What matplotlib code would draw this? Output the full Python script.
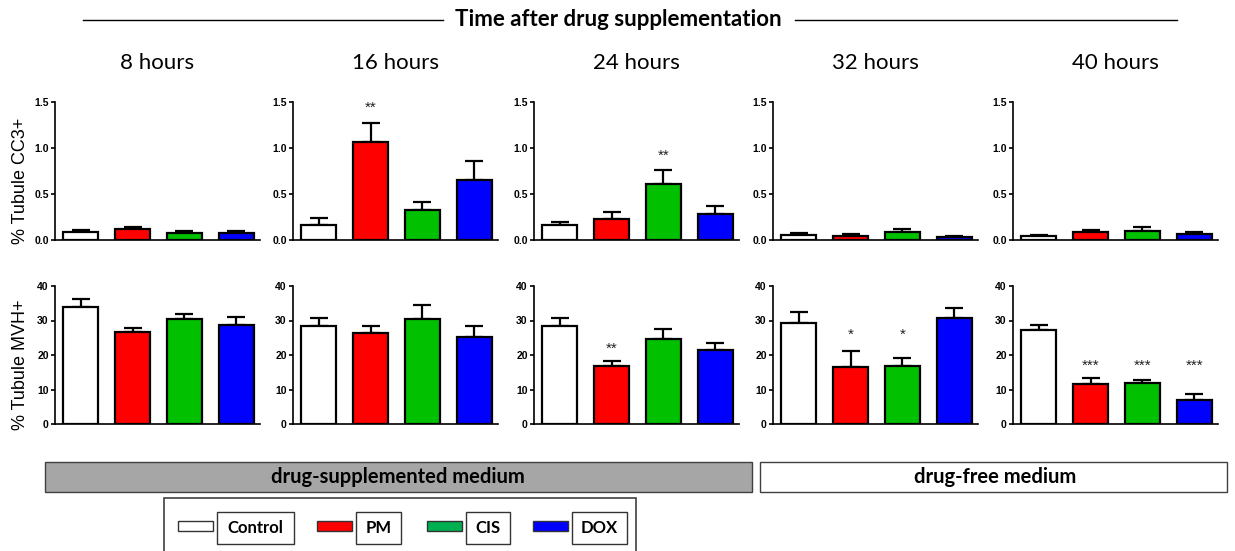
import numpy as np
import matplotlib
matplotlib.use('Agg')
import matplotlib.pyplot as plt
from matplotlib.patches import Rectangle
from matplotlib.lines import Line2D

plt.rcParams['font.family'] = 'Liberation Sans'

W, H = 1235, 551

groups = ['Control', 'PM', 'CIS', 'DOX']
hours = ['8 hours', '16 hours', '24 hours', '32 hours', '40 hours']

# % Tubule CC3+ (mean, upper error) per time point
cc3_mean = [[0.09, 0.12, 0.08, 0.08],
            [0.16, 1.06, 0.33, 0.65],
            [0.16, 0.23, 0.61, 0.28],
            [0.055, 0.045, 0.09, 0.035],
            [0.045, 0.09, 0.10, 0.06]]
cc3_err = [[0.015, 0.025, 0.015, 0.02],
           [0.08, 0.21, 0.08, 0.21],
           [0.04, 0.07, 0.15, 0.09],
           [0.025, 0.015, 0.03, 0.012],
           [0.012, 0.015, 0.04, 0.025]]

# % Tubule MVH+
mvh_mean = [[33.8, 26.7, 30.5, 28.7],
            [28.3, 26.4, 30.5, 25.2],
            [28.4, 16.8, 24.5, 21.4],
            [29.4, 16.6, 16.8, 30.8],
            [27.2, 11.7, 11.8, 6.9]]
mvh_err = [[2.5, 1.0, 1.5, 2.2],
           [2.3, 2.0, 3.9, 3.3],
           [2.4, 1.6, 3.1, 2.2],
           [3.1, 4.6, 2.3, 2.9],
           [1.4, 1.6, 1.0, 1.8]]

# significance marks: panel -> (labels per bar, height)
cc3_stars = {1: (['', '**', '', ''], 1.49),
             2: (['', '', '**', ''], 0.97)}
mvh_stars = {2: (['', '**', '', ''], 23.2),
             3: (['', '*', '*', ''], 27.4),
             4: (['', '***', '***', '***'], 18.4)}

bar_colors = ['white', '#ff0000', '#00c000', '#0000ff']
legend_colors = ['white', '#ff0000', '#00b050', '#0000ff']


def fx(px):
    return px / W


def fy(py):
    return 1 - py / H


fig = plt.figure(figsize=(W / 100, H / 100), dpi=100)

panel_left = [55, 293, 534, 773, 1013]
panel_w = 205

rows = [
    dict(mean=cc3_mean, err=cc3_err, top=102, bottom=240, ylim=(0, 1.5),
         ticks=[0, 0.5, 1.0, 1.5], fmt='{:.1f}', label='% Tubule CC3+', stars=cc3_stars),
    dict(mean=mvh_mean, err=mvh_err, top=286, bottom=424, ylim=(0, 40),
         ticks=[0, 10, 20, 30, 40], fmt='{:d}', label='% Tubule MVH+', stars=mvh_stars),
]

x = np.arange(len(groups))
for r in rows:
    for i in range(len(hours)):
        ax = fig.add_axes([fx(panel_left[i]), fy(r['bottom']),
                           panel_w / W, (r['bottom'] - r['top']) / H])
        ax.errorbar(x, r['mean'][i], yerr=[np.zeros(len(x)), r['err'][i]],
                    fmt='none', ecolor='black', elinewidth=1.6, capsize=6.5,
                    capthick=1.6, zorder=2)
        ax.bar(x, r['mean'][i], width=0.68, color=bar_colors, edgecolor='black',
               linewidth=1.6, zorder=3)
        ax.set_xlim(-0.495, 3.457)
        ax.set_ylim(*r['ylim'])
        ax.set_xticks([])
        ax.set_yticks(r['ticks'])
        ax.set_yticklabels([r['fmt'].format(t) for t in r['ticks']],
                           fontsize=7.5, fontweight='bold')
        ax.tick_params(axis='y', length=3, width=1.2, pad=1.5)
        for s in ['top', 'right']:
            ax.spines[s].set_visible(False)
        for s in ['left', 'bottom']:
            ax.spines[s].set_linewidth(1.2)
        ax.patch.set_visible(False)
        if i in r['stars']:
            labels, h = r['stars'][i]
            for xi, lab in zip(x, labels):
                if lab:
                    ax.annotate(lab, (xi, h), xytext=(0, -6.5), textcoords='offset points',
                                ha='center', va='baseline', fontsize=11, color='#222222')
    fig.text(fx(21), fy((r['top'] + r['bottom']) / 2 + 10), r['label'], rotation=90,
             ha='center', va='center', fontsize=13)

# time point titles
for i, t in enumerate(hours):
    fig.text(fx(panel_left[i] + panel_w / 2), fy(63), t, ha='center', va='center',
             fontsize=16, family='Lato')

# header
fig.text(fx(618), fy(20), 'Time after drug supplementation', ha='center', va='center',
         fontsize=16, fontweight='bold', family='Lato')
fig.add_artist(Line2D([fx(83), fx(443)], [fy(20), fy(20)], color='black', lw=1))
fig.add_artist(Line2D([fx(795), fx(1177)], [fy(20), fy(20)], color='black', lw=1))

# medium bands
fig.add_artist(Rectangle((fx(45), fy(492)), (752 - 45) / W, 30 / H, facecolor='#a6a6a6',
                         edgecolor='#404040', lw=1))
fig.text(fx(398), fy(477), 'drug-supplemented medium', ha='center', va='center',
         fontsize=14.5, fontweight='bold', family='Lato')
fig.add_artist(Rectangle((fx(760), fy(492)), (1227 - 760) / W, 30 / H, facecolor='white',
                         edgecolor='#404040', lw=1))
fig.text(fx(995), fy(477), 'drug-free medium', ha='center', va='center',
         fontsize=14.5, fontweight='bold', family='Lato')

# legend
fig.add_artist(Rectangle((fx(164), fy(600)), (636 - 164) / W, 102 / H, facecolor='white',
                         edgecolor='#404040', lw=1.2))
legend_x = [178, 317, 427, 533]
box_w = [77, 45, 44, 55]
for name, col, lx, bw in zip(groups, legend_colors, legend_x, box_w):
    fig.add_artist(Rectangle((fx(lx), fy(531)), 35 / W, 10 / H, facecolor=col,
                             edgecolor='#333333', lw=1))
    bx = lx + 39
    fig.add_artist(Rectangle((fx(bx), fy(544)), bw / W, 32 / H, facecolor='white',
                             edgecolor='#333333', lw=1))
    fig.text(fx(bx + bw / 2), fy(528), name, ha='center', va='center',
             fontsize=12, fontweight='bold', family='Lato')

fig.savefig('out.png', dpi=100)
